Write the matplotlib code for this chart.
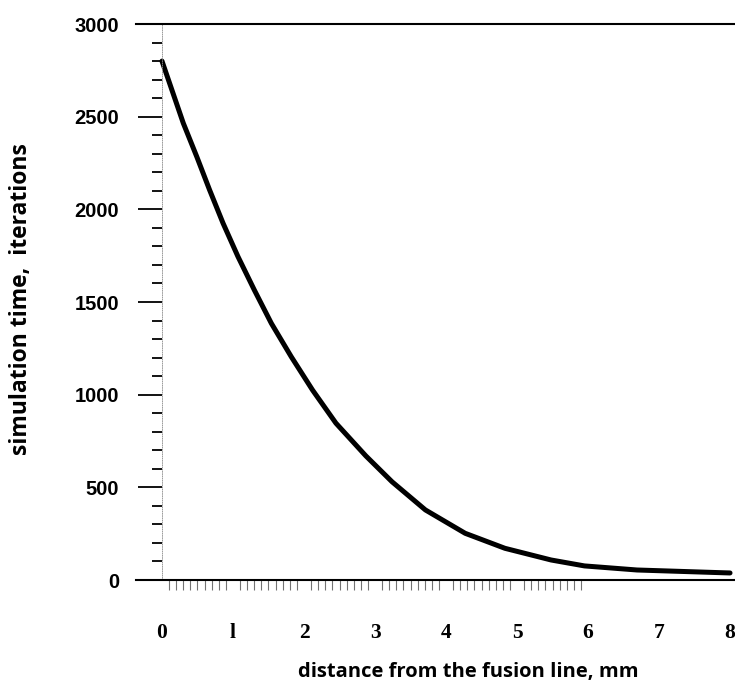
import numpy as np
import matplotlib
matplotlib.use('Agg')
import matplotlib.pyplot as plt
from matplotlib.ticker import FixedLocator, MultipleLocator

# Points (distance in mm, iterations)
distance_mm = [0.0, 0.30, 0.49, 0.67, 0.86, 1.07, 1.30, 1.54, 1.82,
               2.12, 2.45, 2.87, 3.24, 3.71, 4.27, 4.83, 5.48, 5.95, 6.69,
               7.91, 8.0]
sim_time = [2800, 2465, 2284, 2105, 1925, 1745, 1565, 1385, 1205,
            1025, 846, 670, 530, 378, 252, 171, 108, 76, 54,
            39, 38]

x_ticks = [0, 1, 2, 3, 4, 5, 6, 7, 8]
x_labels = ['0', 'l', '2', '3', '4', '5', '6', '7', '8']
y_ticks = [0, 500, 1000, 1500, 2000, 2500, 3000]

fig = plt.figure(figsize=(7.35, 6.87), dpi=100)
ax = fig.add_axes([136 / 735, 107 / 687, 1 - 136 / 735, 556 / 687])

# Main curve
ax.plot(distance_mm, sim_time, color='black', linewidth=3.6,
        solid_capstyle='round', solid_joinstyle='round')

ax.set_xlim(-0.366, 8.07)
ax.set_ylim(0, 3000)

# Frame: only top and bottom horizontal lines, left axis sits at x=0
ax.spines['right'].set_visible(False)
ax.spines['top'].set_linewidth(1.5)
ax.spines['bottom'].set_linewidth(1.5)
ax.spines['left'].set_position(('data', 0))
ax.spines['left'].set_linestyle(':')
ax.spines['left'].set_linewidth(0.6)
ax.spines['left'].set_color('0.55')

# y ticks
ax.yaxis.set_major_locator(FixedLocator(y_ticks))
ax.yaxis.set_minor_locator(MultipleLocator(100))
ax.tick_params(axis='y', which='major', direction='out', length=17,
               width=1.3, pad=14)
ax.tick_params(axis='y', which='minor', direction='out', length=7,
               width=1.3)
for lab in ax.get_yticklabels():
    lab.set_fontfamily('Liberation Sans')
    lab.set_fontweight('bold')
    lab.set_fontsize(14.5)

# x ticks (scan-like dense minor ticks under the axis)
ax.set_xticks(x_ticks)
ax.set_xticklabels(x_labels, fontfamily='Liberation Serif',
                   fontweight='bold', fontsize=15.5)
ax.xaxis.set_minor_locator(FixedLocator(np.arange(0, 5.95, 0.1)))
ax.tick_params(axis='x', which='major', length=0, pad=31)
ax.tick_params(axis='x', which='minor', direction='out', length=7,
               width=0.8, color='0.45')

ax.set_xlabel('distance from the fusion line, mm', fontfamily='Open Sans',
              fontweight='bold', fontsize=14.5)
ax.xaxis.set_label_coords(0.554, -0.148)
ax.set_ylabel('simulation time,  iterations', fontfamily='Open Sans',
              fontweight='bold', fontsize=16.5)
ax.yaxis.set_label_coords(-0.172, 0.505)

fig.savefig('out.png', dpi=100)
